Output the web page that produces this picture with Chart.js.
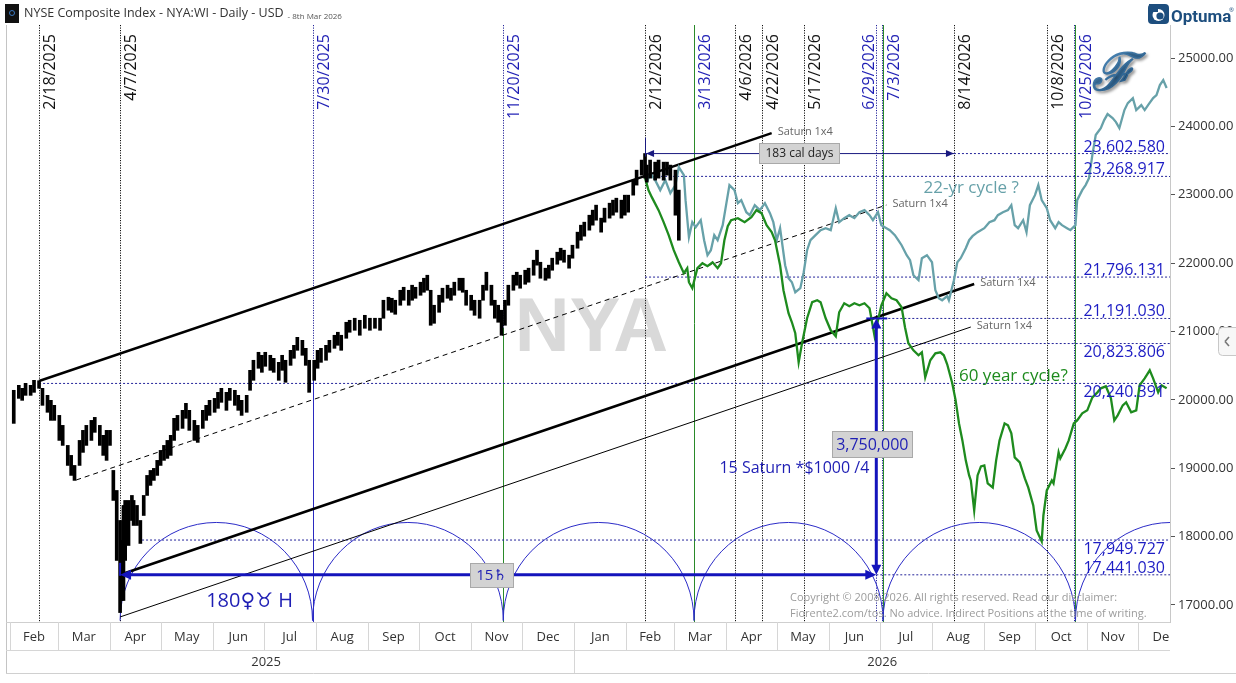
<!DOCTYPE html>
<html>
<head>
<meta charset="utf-8">
<script src="https://cdn.jsdelivr.net/npm/chart.js@4.4.1/dist/chart.umd.min.js"></script>
<style>
  html, body { margin: 0; padding: 0; background: #fff; }
  #wrap { width: 1236px; height: 683px; }
</style>
</head>
<body>
<div id="wrap"><canvas id="nyaChart" width="1236" height="683"></canvas></div>
<script>
// ---- data ----
var nyaDates = [
  '2025-02-03','2025-02-06','2025-02-08','2025-02-10','2025-02-13','2025-02-15','2025-02-18','2025-02-20',
  '2025-02-23','2025-02-25','2025-02-27','2025-03-02','2025-03-04','2025-03-07','2025-03-09','2025-03-11',
  '2025-03-14','2025-03-16','2025-03-18','2025-03-21','2025-03-23','2025-03-26','2025-03-28','2025-03-30',
  '2025-04-01','2025-04-03','2025-04-05','2025-04-07','2025-04-08','2025-04-09','2025-04-10','2025-04-12',
  '2025-04-14','2025-04-15','2025-04-17','2025-04-19','2025-04-21','2025-04-23','2025-04-25','2025-04-27',
  '2025-04-29','2025-05-01','2025-05-03','2025-05-05','2025-05-07','2025-05-09','2025-05-11','2025-05-14',
  '2025-05-16','2025-05-18','2025-05-21','2025-05-23','2025-05-26','2025-05-28','2025-05-30','2025-06-02',
  '2025-06-04','2025-06-06','2025-06-09','2025-06-11','2025-06-14','2025-06-16','2025-06-18','2025-06-21',
  '2025-06-23','2025-06-25','2025-06-28','2025-06-30','2025-07-02','2025-07-05','2025-07-07','2025-07-10',
  '2025-07-12','2025-07-14','2025-07-17','2025-07-19','2025-07-21','2025-07-24','2025-07-26','2025-07-28',
  '2025-07-31','2025-08-02','2025-08-04','2025-08-07','2025-08-09','2025-08-12','2025-08-14','2025-08-16',
  '2025-08-19','2025-08-21','2025-08-24','2025-08-27','2025-08-30','2025-09-02','2025-09-05','2025-09-08',
  '2025-09-10','2025-09-13','2025-09-15','2025-09-17','2025-09-20','2025-09-22','2025-09-25','2025-09-27',
  '2025-09-29','2025-10-02','2025-10-04','2025-10-06','2025-10-08','2025-10-10','2025-10-13','2025-10-15',
  '2025-10-18','2025-10-20','2025-10-22','2025-10-25','2025-10-27','2025-10-29','2025-11-01','2025-11-03',
  '2025-11-06','2025-11-08','2025-11-10','2025-11-13','2025-11-15','2025-11-17','2025-11-19','2025-11-21',
  '2025-11-23','2025-11-26','2025-11-28','2025-11-30','2025-12-03','2025-12-05','2025-12-08','2025-12-10',
  '2025-12-12','2025-12-15','2025-12-17','2025-12-19','2025-12-22','2025-12-24','2025-12-26','2025-12-29',
  '2025-12-31','2026-01-03','2026-01-05','2026-01-07','2026-01-10','2026-01-12','2026-01-14','2026-01-17',
  '2026-01-19','2026-01-22','2026-01-24','2026-01-26','2026-01-29','2026-01-31','2026-02-02','2026-02-05',
  '2026-02-07','2026-02-10','2026-02-12','2026-02-13','2026-02-15','2026-02-18','2026-02-20','2026-02-23',
  '2026-02-25','2026-02-27','2026-03-02','2026-03-04'
];
var nyaLow = [
  19656,20022,19993,20066,20066,20110,20169,19920, 19818,19700,19700,19407,19334,19041,18895,18822,
  19041,19232,19334,19407,19525,19334,19188,19115, 19334,18529,17651,16889,17065,17065,17651,17870,
  18236,18163,18163,17900,18309,18602,18749,18822, 18895,19041,19115,19144,19188,19407,19554,19583,
  19730,19554,19407,19378,19583,19700,19773,19818, 19876,19964,19847,19993,19920,19847,19773,19818,
  20140,20286,20462,20403,20491,20432,20403,20286, 20432,20257,20505,20608,20725,20652,20505,20110,
  20286,20462,20549,20579,20696,20754,20798,20725, 20901,20989,21018,20945,21047,21018,21047,21018,
  21194,21311,21281,21252,21384,21457,21384,21457, 21486,21530,21574,21603,21091,21120,21281,21428,
  21486,21457,21530,21603,21574,21384,21311,21237, 21194,21457,21603,21384,21194,21135,20945,21091,
  21384,21603,21677,21633,21691,21721,21823,21970, 21779,21750,21779,21896,21984,22043,22013,21926,
  22072,22218,22335,22394,22482,22555,22628,22453, 22599,22658,22701,22745,22658,22701,22745,22994,
  23141,23287,23243,23185,23243,23214,23243,23214, 23287,23214,22701,22335
];
var nyaHigh = [
  20140,20213,20169,20242,20213,20286,20280,20169, 20066,19993,19920,19773,19627,19334,19188,19041,
  19407,19554,19627,19700,19744,19627,19481,19554, 19554,18968,18675,18236,17944,18456,18529,18529,
  18602,18529,18456,18236,18602,18895,18968,18998, 19115,19261,19334,19407,19481,19730,19773,19847,
  19949,19847,19700,19627,19847,19920,19993,20022, 20110,20169,20110,20169,20140,20066,19993,20066,
  20432,20579,20696,20652,20696,20652,20608,20549, 20652,20579,20725,20798,20915,20871,20754,20579,
  20579,20725,20754,20798,20871,20945,20989,20945, 21135,21164,21194,21164,21237,21194,21194,21194,
  21457,21501,21486,21457,21603,21647,21603,21677, 21647,21721,21779,21823,21603,21384,21530,21633,
  21677,21633,21721,21779,21779,21603,21530,21457, 21457,21677,21867,21677,21457,21384,21311,21457,
  21677,21823,21867,21823,21896,21926,22043,22189, 22013,21926,21970,22072,22160,22218,22189,22116,
  22262,22453,22555,22599,22701,22775,22848,22658, 22804,22877,22921,22950,22921,22994,22994,23214,
  23360,23507,23603,23434,23507,23477,23507,23477, 23477,23434,23360,23068
];

// "60 year cycle?" projection (green)
var greenDates = [
  '2026-02-12','2026-02-14','2026-02-16','2026-02-20','2026-02-23','2026-02-26',
  '2026-03-01','2026-03-04','2026-03-07','2026-03-09','2026-03-10','2026-03-12','2026-03-15','2026-03-18','2026-03-21','2026-03-24','2026-03-27','2026-03-29','2026-03-31',
  '2026-04-02','2026-04-04','2026-04-08','2026-04-12','2026-04-16','2026-04-19','2026-04-22','2026-04-25','2026-04-28','2026-04-30',
  '2026-05-03','2026-05-05','2026-05-08','2026-05-10','2026-05-12','2026-05-14','2026-05-16','2026-05-19','2026-05-22','2026-05-25','2026-05-27','2026-05-30',
  '2026-06-02','2026-06-05','2026-06-07','2026-06-10','2026-06-13','2026-06-16','2026-06-19','2026-06-22','2026-06-25','2026-06-28','2026-06-30',
  '2026-07-02','2026-07-05','2026-07-08','2026-07-11','2026-07-14','2026-07-16','2026-07-18','2026-07-21','2026-07-24','2026-07-26','2026-07-28','2026-07-31',
  '2026-08-03','2026-08-06','2026-08-08','2026-08-10','2026-08-13','2026-08-15','2026-08-17','2026-08-19','2026-08-21','2026-08-23','2026-08-24','2026-08-26','2026-08-28','2026-08-30',
  '2026-09-01','2026-09-03','2026-09-06','2026-09-08','2026-09-10','2026-09-13','2026-09-15','2026-09-17','2026-09-19','2026-09-22','2026-09-25','2026-09-27','2026-09-30',
  '2026-10-02','2026-10-05','2026-10-06','2026-10-08','2026-10-11','2026-10-12','2026-10-15','2026-10-16','2026-10-19','2026-10-21','2026-10-24','2026-10-26','2026-10-29',
  '2026-11-01','2026-11-04','2026-11-07','2026-11-09','2026-11-12','2026-11-15','2026-11-17','2026-11-19','2026-11-22','2026-11-24','2026-11-27','2026-11-30',
  '2026-12-02','2026-12-05','2026-12-08','2026-12-10','2026-12-13','2026-12-15','2026-12-18'
];
var greenValues = [
  23250,23068,22965,22775,22599,22409,
  22189,22013,21852,21926,21721,21633,21926,21999,21955,22013,21926,21999,22335,
  22540,22628,22658,22599,22672,22775,22731,22555,22453,22335,
  21970,21603,21267,21135,20974,20549,20828,21194,21428,21457,21428,21194,
  21018,20930,21281,21413,21369,21413,21384,21413,21340,20930,21164,
  21384,21560,21486,21457,21355,21062,20828,20725,20652,20696,20330,20579,
  20681,20696,20652,20520,20242,19993,19656,19407,19115,18895,18822,18383,18895,19027,
  19041,18778,18719,19115,19407,19656,19627,19510,19159,19085,18851,18719,18456,
  18090,17930,18309,18675,18822,18778,19232,19144,19290,19407,19656,19700,19803,
  19847,20037,20110,20169,20198,20022,19700,19773,19920,19964,19818,19847,
  20213,20315,20432,20315,20110,20213,20169
];

// "22-yr cycle ?" projection (teal)
var tealDates = [
  '2026-02-12','2026-02-13','2026-02-15','2026-02-18','2026-02-21','2026-02-24','2026-02-27',
  '2026-03-02','2026-03-04','2026-03-07','2026-03-08','2026-03-10','2026-03-12','2026-03-14','2026-03-17','2026-03-19','2026-03-21','2026-03-23','2026-03-25','2026-03-27','2026-03-30',
  '2026-04-01','2026-04-03','2026-04-06','2026-04-08','2026-04-10','2026-04-13','2026-04-15','2026-04-18','2026-04-21','2026-04-24','2026-04-27','2026-04-29',
  '2026-05-01','2026-05-03','2026-05-06','2026-05-08','2026-05-10','2026-05-12','2026-05-15','2026-05-17','2026-05-19','2026-05-21','2026-05-24','2026-05-27','2026-05-30',
  '2026-06-02','2026-06-05','2026-06-07','2026-06-10','2026-06-13','2026-06-16','2026-06-19','2026-06-22','2026-06-25','2026-06-27','2026-06-30',
  '2026-07-02','2026-07-05','2026-07-07','2026-07-10','2026-07-12','2026-07-14','2026-07-17','2026-07-19','2026-07-21','2026-07-24','2026-07-26','2026-07-29',
  '2026-08-01','2026-08-03','2026-08-05','2026-08-07','2026-08-10','2026-08-11','2026-08-14','2026-08-16','2026-08-18','2026-08-21','2026-08-23','2026-08-25','2026-08-28',
  '2026-09-01','2026-09-04','2026-09-07','2026-09-09','2026-09-12','2026-09-15','2026-09-17','2026-09-19','2026-09-21','2026-09-24','2026-09-26','2026-09-28',
  '2026-10-01','2026-10-03','2026-10-05','2026-10-08','2026-10-10','2026-10-13','2026-10-15','2026-10-17','2026-10-20','2026-10-22','2026-10-25','2026-10-26','2026-10-29','2026-10-31',
  '2026-11-02','2026-11-04','2026-11-06','2026-11-09','2026-11-11','2026-11-13','2026-11-16','2026-11-18','2026-11-20','2026-11-23','2026-11-25','2026-11-28','2026-11-30',
  '2026-12-03','2026-12-05','2026-12-07','2026-12-10','2026-12-12','2026-12-14','2026-12-16','2026-12-18'
];
var tealValues = [
  23268,23170,23316,23214,23068,23214,23024,
  23141,23404,23287,22921,22379,22599,22526,22628,22335,22116,22189,22409,22335,22555,
  22848,23141,23068,22877,22921,22745,22701,22848,22775,22877,22731,22599,
  22335,22511,21970,21779,21721,21574,21633,21867,22189,22335,22409,22482,22511,
  22482,22804,22599,22658,22701,22658,22745,22775,22701,22628,22745,
  22555,22511,22482,22409,22335,22262,22116,22043,21823,21750,22072,22116,
  22013,21603,21486,21457,21516,21457,21750,22013,22072,22218,22335,22394,22453,
  22511,22599,22628,22701,22745,22775,22848,22555,22511,22628,22453,22848,
  22994,23141,22921,22804,22628,22511,22599,22555,22511,22482,22555,22921,23068,23141,
  23243,23580,23873,23975,24092,24180,24122,24063,23975,24239,24341,24414,24239,
  24312,24239,24312,24414,24458,24605,24678,24561
];

// Saturn 1x4 lines (start / end)
var trendStartDates = ['2025-02-18','2025-03-12','2025-04-07','2025-04-07'];
var trendStartValues = [20276, 18828, 17441, 16825];
var trendEndDates = ['2026-04-28','2026-07-05','2026-08-26','2026-08-24'];
var trendEndValues = [23903, 22850, 21695, 21066];

// horizontal levels
var levelValues = [23602.580, 23268.917, 21796.131, 21191.030, 20823.806, 20240.391, 17949.727, 17441.030];
var levelStarts = ['2026-08-14','2026-02-12','2026-02-12','2026-06-29','2026-05-17','2025-02-18','2025-04-20','2026-06-29'];
var levelBelow = [20823.806, 20240.391, 17949.727];

// vertical date markers
var markerDates = ['2025-02-18','2025-04-07','2025-07-30','2025-11-20','2026-02-12','2026-03-13','2026-04-06',
  '2026-04-22','2026-05-17','2026-06-29','2026-07-03','2026-08-14','2026-10-08','2026-10-25'];
var markerNavy = ['2025-07-30','2025-11-20','2026-03-13','2026-06-29','2026-07-03','2026-10-25'];
var markerGreen = ['2026-03-13','2026-07-03','2026-10-25'];
var markerDouble = ['2026-07-03','2026-10-25'];
var markerLabelLeft = ['2026-06-29'];

// 180 Venus-Uranus arcs
var arcCusps = ['2025-04-07','2025-07-30','2025-11-20','2026-03-13','2026-07-03','2026-10-25','2027-02-15'];
var arcBase = 16772, arcTop = 18207;

var monthNames = ['Jan','Feb','Mar','Apr','May','Jun','Jul','Aug','Sep','Oct','Nov','Dec'];
var yearLabels = [2025, 2026];
var yTicks = [17000,18000,19000,20000,21000,22000,23000,24000,25000];
var xStart = '2025-01-30', xEnd = '2026-12-20';
var yMin = 16751, yMax = 25483;

// ---- helpers ----
var FONT = '"Open Sans", "DejaVu Sans", sans-serif';
var NAVY = '#1e1eb4', NAVYDOT = '#24249a', BLUE = '#1414bc';
var GREEN = '#1e8b1e', TEAL = '#67a1a9';

function dayOf(s) {
  var p = s.split('-');
  return (Date.UTC(+p[0], +p[1] - 1, +p[2]) - Date.UTC(2025, 1, 1)) / 86400000;
}
function fmtDate(s) { var p = s.split('-'); return (+p[1]) + '/' + (+p[2]) + '/' + p[0]; }
function fmtLevel(v) { return v.toLocaleString('en-US', {minimumFractionDigits: 3, maximumFractionDigits: 3}); }
function pts(dates, vals) { return dates.map(function (d, i) { return {x: dayOf(d), y: vals[i]}; }); }

function arrowHead(ctx, x, y, ang, len, half, color) {
  ctx.save();
  ctx.translate(x, y); ctx.rotate(ang);
  ctx.fillStyle = color;
  ctx.beginPath(); ctx.moveTo(0, 0); ctx.lineTo(-len, -half); ctx.lineTo(-len, half); ctx.closePath(); ctx.fill();
  ctx.restore();
}
function line(ctx, x1, y1, x2, y2, color, w, dash) {
  ctx.save();
  ctx.strokeStyle = color; ctx.lineWidth = w; ctx.setLineDash(dash || []);
  ctx.beginPath(); ctx.moveTo(x1, y1); ctx.lineTo(x2, y2); ctx.stroke();
  ctx.restore();
}
function box(ctx, cx, cy, w, h, text, font, color) {
  ctx.save();
  ctx.fillStyle = '#d3d3d3'; ctx.strokeStyle = '#a9a9a9'; ctx.lineWidth = 1;
  ctx.fillRect(Math.round(cx - w / 2) + 0.5, Math.round(cy - h / 2) + 0.5, w, h);
  ctx.strokeRect(Math.round(cx - w / 2) + 0.5, Math.round(cy - h / 2) + 0.5, w, h);
  ctx.fillStyle = color; ctx.font = font; ctx.textAlign = 'center'; ctx.textBaseline = 'middle';
  ctx.fillText(text, cx, cy + 1);
  ctx.restore();
}

// ---- datasets ----
var datasets = [];
datasets.push({
  type: 'bar', label: 'NYA',
  data: nyaDates.map(function (d, i) { return {x: dayOf(d), y: [nyaLow[i], nyaHigh[i]]}; }),
  backgroundColor: '#000', borderWidth: 0, barThickness: 3, order: 1
});
datasets.push({type: 'line', label: '60 year cycle?', data: pts(greenDates, greenValues),
  borderColor: GREEN, borderWidth: 2.3, pointRadius: 0, tension: 0, fill: false, order: 2});
datasets.push({type: 'line', label: '22-yr cycle ?', data: pts(tealDates, tealValues),
  borderColor: TEAL, borderWidth: 2.3, pointRadius: 0, tension: 0, fill: false, order: 3});
var trendWidths = [2.4, 1, 2.6, 1];
for (var t = 0; t < trendStartDates.length; t++) {
  datasets.push({type: 'line', label: 'Saturn 1x4',
    data: [{x: dayOf(trendStartDates[t]), y: trendStartValues[t]}, {x: dayOf(trendEndDates[t]), y: trendEndValues[t]}],
    borderColor: '#000', borderWidth: trendWidths[t], borderDash: t === 1 ? [5, 4] : [],
    pointRadius: 0, tension: 0, fill: false, order: 5});
}
for (var l = 0; l < levelValues.length; l++) {
  datasets.push({type: 'line', label: 'level',
    data: [{x: dayOf(levelStarts[l]), y: levelValues[l]}, {x: dayOf(xEnd), y: levelValues[l]}],
    borderColor: NAVYDOT, borderWidth: 1, borderDash: [2, 2], pointRadius: 0, fill: false, order: 8});
}

// ---- drawing plugin ----
var decor = {
  id: 'decor',
  beforeDraw: function (chart) {
    var ctx = chart.ctx;
    ctx.save(); ctx.fillStyle = '#fff'; ctx.fillRect(0, 0, chart.width, chart.height); ctx.restore();
  },
  beforeDatasetsDraw: function (chart) {
    var ctx = chart.ctx, a = chart.chartArea, xs = chart.scales.x, ys = chart.scales.y;
    ctx.save();
    ctx.beginPath(); ctx.rect(a.left, a.top, a.right - a.left, a.bottom - a.top); ctx.clip();

    // watermark
    ctx.fillStyle = '#d9d9d9';
    ctx.font = 'bold 76px "Liberation Sans", Arial, sans-serif';
    ctx.textAlign = 'center'; ctx.textBaseline = 'alphabetic';
    ctx.fillText('NYA', (a.left + a.right) / 2 + 3, (a.top + a.bottom) / 2 + 27);

    // vertical date lines
    markerDates.forEach(function (d) {
      var x = Math.round(xs.getPixelForValue(dayOf(d))) + 0.5;
      if (markerGreen.indexOf(d) >= 0) {
        if (markerDouble.indexOf(d) >= 0) line(ctx, x - 1, a.top, x - 1, a.bottom, NAVYDOT, 1, [1.2, 1.3]);
        line(ctx, x, a.top, x, a.bottom, '#2a8a2a', 1);
      } else if (markerNavy.indexOf(d) >= 0) {
        line(ctx, x, a.top, x, a.bottom, NAVYDOT, 1, [1.2, 1.3]);
      } else {
        line(ctx, x, a.top, x, a.bottom, '#111', 1, [1.2, 1.3]);
      }
    });
    var x730 = Math.round(xs.getPixelForValue(dayOf('2025-07-30'))) + 0.5;
    line(ctx, x730, ys.getPixelForValue(20300), x730, a.bottom, '#2a2ac0', 1);
    var x1120 = Math.round(xs.getPixelForValue(dayOf('2025-11-20'))) + 0.5;
    line(ctx, x1120, ys.getPixelForValue(21050), x1120, a.bottom, '#2a8a2a', 1);

    // arcs
    var yb = ys.getPixelForValue(arcBase), yt = ys.getPixelForValue(arcTop);
    ctx.strokeStyle = '#2c2cc8'; ctx.lineWidth = 1; ctx.setLineDash([]);
    for (var i = 0; i < arcCusps.length - 1; i++) {
      var xa = xs.getPixelForValue(dayOf(arcCusps[i])), xb = xs.getPixelForValue(dayOf(arcCusps[i + 1]));
      ctx.beginPath();
      ctx.ellipse((xa + xb) / 2, yb, (xb - xa) / 2, yb - yt, 0, Math.PI, 2 * Math.PI);
      ctx.stroke();
    }
    ctx.restore();
  },
  afterDatasetsDraw: function (chart) {
    var ctx = chart.ctx, a = chart.chartArea, xs = chart.scales.x, ys = chart.scales.y;
    function X(d) { return xs.getPixelForValue(dayOf(d)); }
    function Y(v) { return ys.getPixelForValue(v); }
    ctx.save();

    // 183 cal days arrow
    var y183 = Y(levelValues[0]), xa = X('2026-02-12'), xb = X('2026-08-14');
    line(ctx, xa, y183, xb, y183, '#1a1a80', 1);
    arrowHead(ctx, xa + 1, y183, Math.PI, 8, 3.5, '#1a1a80');
    arrowHead(ctx, xb, y183, 0, 8, 3.5, '#1a1a80');
    line(ctx, Math.round(xa) + 0.5, y183 - 16, Math.round(xa) + 0.5, y183 + 3, '#1a1a80', 1);
    box(ctx, (xa + xb) / 2, y183 - 1, 80, 20, '183 cal days', '12px ' + FONT, '#222');

    // 15 Saturn horizontal arrow
    var y15 = Y(17441.030), x0 = X('2025-04-07'), x1 = X('2026-06-29');
    line(ctx, x0 + 4, y15, x1 - 4, y15, BLUE, 3);
    arrowHead(ctx, x0, y15, Math.PI, 11, 5, BLUE);
    arrowHead(ctx, x1, y15, 0, 11, 5, BLUE);
    line(ctx, x0, y15 - 12, x0, y15 + 1, BLUE, 2);
    box(ctx, X('2025-11-13'), y15, 43, 24, '15\u2644', '15px ' + FONT, NAVY);

    // vertical 3,750,000 arrow
    var yTopA = Y(21191.030);
    line(ctx, x1, yTopA + 6, x1, y15 - 6, BLUE, 3);
    arrowHead(ctx, x1, yTopA, -Math.PI / 2, 10, 5, BLUE);
    arrowHead(ctx, x1, y15, Math.PI / 2, 10, 5, BLUE);
    line(ctx, x1 - 10, yTopA, x1 + 11, yTopA, BLUE, 2);
    box(ctx, x1 - 4, Y(19355), 80, 26, '3,750,000', '16px ' + FONT, NAVY);
    ctx.font = '16px ' + FONT; ctx.fillStyle = NAVY; ctx.textAlign = 'right'; ctx.textBaseline = 'middle';
    ctx.fillText('15 Saturn *$1000 /4', x1 - 7, Y(19004));

    // texts
    ctx.textAlign = 'left'; ctx.textBaseline = 'middle';
    ctx.font = '20px ' + FONT; ctx.fillStyle = NAVY;
    ctx.fillText('180\u2640\u2649 H', X('2025-05-28'), Y(17059));
    ctx.font = '17px ' + FONT; ctx.fillStyle = TEAL;
    ctx.fillText('22-yr cycle ?', X('2026-07-27'), Y(23099));
    ctx.fillStyle = GREEN;
    ctx.fillText('60 year cycle?', X('2026-08-17'), Y(20349));

    ctx.font = '11px ' + FONT; ctx.fillStyle = '#666';
    for (var t = 0; t < trendEndDates.length; t++) {
      ctx.fillText('Saturn 1x4', X(trendEndDates[t]) + 6, Y(trendEndValues[t]) - 1);
    }

    // level labels
    ctx.font = '16px ' + FONT; ctx.fillStyle = '#1c1cc4'; ctx.textAlign = 'right';
    levelValues.forEach(function (v) {
      var yy = Y(v);
      if (levelBelow.indexOf(v) >= 0) { ctx.textBaseline = 'top'; ctx.fillText(fmtLevel(v), a.right - 5, yy + 1); }
      else { ctx.textBaseline = 'alphabetic'; ctx.fillText(fmtLevel(v), a.right - 5, yy - 2); }
    });

    // rotated date labels
    ctx.font = '16px ' + FONT; ctx.textAlign = 'right'; ctx.textBaseline = 'alphabetic';
    markerDates.forEach(function (d) {
      var x = X(d);
      ctx.save();
      ctx.translate(markerLabelLeft.indexOf(d) >= 0 ? x - 2 : x + 16, a.top + 9);
      ctx.rotate(-Math.PI / 2);
      ctx.fillStyle = markerNavy.indexOf(d) >= 0 ? NAVY : '#111';
      ctx.fillText(fmtDate(d), 0, 0);
      ctx.restore();
    });

    // copyright
    ctx.font = '11px ' + FONT; ctx.fillStyle = '#9c9c9c'; ctx.textAlign = 'left'; ctx.textBaseline = 'alphabetic';
    ctx.fillText('Copyright \u00a9 2008-2026. All rights reserved. Read our disclaimer:', 790, 601);
    ctx.fillText('Fiorente2.com/tos. No advice. Indirect Positions at the time of writing.', 790, 617);

    // F logo
    ctx.save();
    ctx.shadowColor = 'rgba(0,0,0,0.35)'; ctx.shadowBlur = 3; ctx.shadowOffsetX = 2; ctx.shadowOffsetY = 2;
    var g = ctx.createLinearGradient(1092, 50, 1132, 100);
    g.addColorStop(0, '#5592c2'); g.addColorStop(1, '#1b4b76');
    ctx.fillStyle = g; ctx.strokeStyle = g; ctx.lineWidth = 1.4;
    ctx.font = 'italic 52px "DejaVu Serif", serif'; ctx.textAlign = 'center'; ctx.textBaseline = 'middle';
    ctx.fillText('\u2131', 1113, 76);
    ctx.strokeText('\u2131', 1113, 76);
    ctx.restore();

    ctx.restore();
  },
  afterDraw: function (chart) {
    var ctx = chart.ctx, a = chart.chartArea, xs = chart.scales.x;
    var rowTop = a.bottom, rowMid = a.bottom + 28, rowBot = a.bottom + 51;
    ctx.save();
    // frame
    line(ctx, 6.5, a.top, 6.5, rowBot, '#c4c4c4', 1);
    line(ctx, 6, rowTop + 0.5, a.right, rowTop + 0.5, '#cfcfcf', 1);
    line(ctx, 6, rowMid + 0.5, a.right, rowMid + 0.5, '#d6d6d6', 1);
    line(ctx, 6, rowBot + 0.5, chart.width, rowBot + 0.5, '#d0d0d0', 1);

    ctx.save();
    ctx.beginPath(); ctx.rect(a.left, rowTop, a.right - a.left, rowBot - rowTop); ctx.clip();
    ctx.font = '13px ' + FONT; ctx.fillStyle = '#333'; ctx.textAlign = 'center'; ctx.textBaseline = 'middle';
    yearLabels.forEach(function (yr) {
      for (var m = 0; m < 12; m++) {
        var s = yr + '-' + String(m + 1).padStart(2, '0') + '-01';
        var e = m === 11 ? (yr + 1) + '-01-01' : yr + '-' + String(m + 2).padStart(2, '0') + '-01';
        var xl = xs.getPixelForValue(dayOf(s)), xr = xs.getPixelForValue(dayOf(e));
        if (xr < a.left || xl > a.right) continue;
        if (xl > a.left) line(ctx, Math.round(xl) + 0.5, rowTop, Math.round(xl) + 0.5, rowMid, '#d6d6d6', 1);
        ctx.fillText(monthNames[m], (xl + xr) / 2, rowTop + 15);
      }
      var ys0 = xs.getPixelForValue(dayOf(yr + '-01-01')), ye0 = xs.getPixelForValue(dayOf((yr + 1) + '-01-01'));
      if (ys0 > a.left) line(ctx, Math.round(ys0) + 0.5, rowMid, Math.round(ys0) + 0.5, rowBot, '#d6d6d6', 1);
      ctx.fillText(String(yr), (ys0 + ye0) / 2, rowMid + 12);
    });
    ctx.restore();

    // title
    ctx.fillStyle = '#111'; ctx.fillRect(5, 4, 14, 19);
    ctx.strokeStyle = '#3a78c0'; ctx.lineWidth = 1;
    ctx.beginPath(); ctx.arc(12, 13, 2.5, 0, Math.PI * 2); ctx.stroke();
    ctx.font = '12.5px ' + FONT; ctx.fillStyle = '#333'; ctx.textAlign = 'left'; ctx.textBaseline = 'alphabetic';
    ctx.fillText('NYSE Composite Index - NYA:WI - Daily - USD', 24, 17);
    var tw = ctx.measureText('NYSE Composite Index - NYA:WI - Daily - USD').width;
    ctx.font = '8px ' + FONT; ctx.fillStyle = '#555';
    ctx.fillText('- 8th Mar 2026', 24 + tw + 4, 19);

    // Optuma logo
    ctx.fillStyle = '#1d4e7e';
    ctx.beginPath();
    if (ctx.roundRect) ctx.roundRect(1148, 4, 21, 20, 4); else ctx.rect(1148, 4, 21, 20);
    ctx.fill();
    ctx.fillStyle = '#fff';
    ctx.beginPath(); ctx.arc(1158.5, 15, 6, 0, Math.PI * 2); ctx.fill();
    ctx.fillStyle = '#1d4e7e';
    ctx.beginPath(); ctx.arc(1160, 16, 3.6, 0, Math.PI * 2); ctx.fill();
    ctx.beginPath(); ctx.rect(1149, 4, 9, 8); ctx.fill();
    ctx.fillStyle = '#1d4e7e'; ctx.font = 'bold 17px "Liberation Sans Narrow", "Roboto", sans-serif';
    ctx.fillText('Optuma', 1171, 22);
    ctx.font = '6px ' + FONT; ctx.fillText('\u00ae', 1229, 12);

    // side tab
    ctx.fillStyle = '#f7f7f7'; ctx.strokeStyle = '#c8c8c8';
    ctx.beginPath();
    if (ctx.roundRect) ctx.roundRect(1218.5, 327.5, 24, 28, 4); else ctx.rect(1218.5, 327.5, 24, 28);
    ctx.fill(); ctx.stroke();
    line(ctx, 1229, 337, 1225, 341.5, '#777', 1.6);
    line(ctx, 1225, 341.5, 1229, 346, '#777', 1.6);
    ctx.restore();
  }
};

new Chart(document.getElementById('nyaChart'), {
  type: 'line',
  data: {datasets: datasets},
  options: {
    responsive: false,
    animation: false,
    events: [],
    layout: {padding: {left: 7, top: 25, right: 0, bottom: 61}},
    plugins: {legend: {display: false}, tooltip: {enabled: false}},
    scales: {
      x: {type: 'linear', display: false, offset: false, min: dayOf(xStart), max: dayOf(xEnd)},
      y: {
        type: 'linear', position: 'right', min: yMin, max: yMax,
        afterBuildTicks: function (axis) { axis.ticks = yTicks.map(function (v) { return {value: v}; }); },
        afterFit: function (axis) { axis.width = 66; },
        grid: {drawOnChartArea: false, drawTicks: true, tickLength: 5, tickColor: '#555'},
        border: {display: true, color: '#c8c8c8'},
        ticks: {
          padding: 3, color: '#333', font: {family: 'Open Sans', size: 13},
          callback: function (v) { return Number(v).toFixed(2); }
        }
      }
    }
  },
  plugins: [decor]
});
</script>
</body>
</html>
